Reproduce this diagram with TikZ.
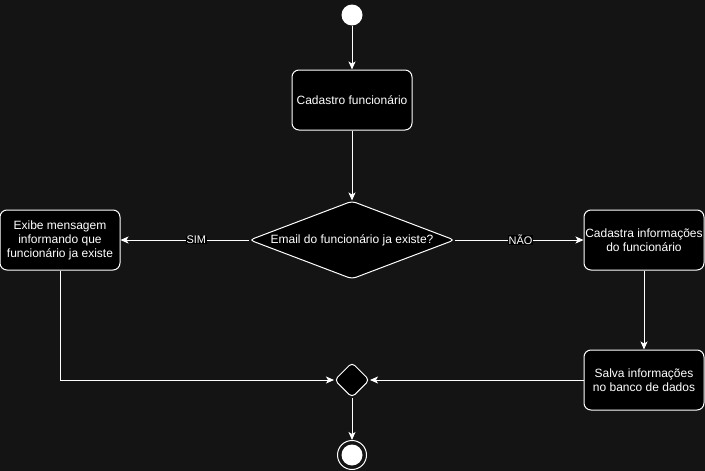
\documentclass[tikz,border=0pt]{standalone}
\usepackage{fontspec}
\setmainfont{Liberation Sans}
\usetikzlibrary{shapes.geometric,arrows.meta}
\definecolor{bg}{RGB}{20,20,20}
\begin{document}
\begin{tikzpicture}[x=1pt,y=-1pt,
  font=\fontsize{12}{14}\selectfont,
  box/.style={draw=white,fill=black,text=white,rounded corners=7pt,minimum width=120pt,minimum height=60pt,align=center,inner sep=1pt,line width=1pt},
  dec/.style={draw=white,fill=black,text=white,diamond,aspect=2.63,inner sep=0pt,minimum width=205pt,minimum height=78pt,rounded corners=4pt,line width=1pt},
  conn/.style={draw=white,line width=1pt,-{Stealth[length=8pt,width=7pt,inset=2pt]}},
  lbl/.style={fill=black,text=white,inner sep=0.5pt,font=\fontsize{11}{12}\selectfont}]
\fill[bg] (0,0) rectangle (705,471);
\useasboundingbox (0,0) rectangle (705,471);
\node[circle,fill=white,minimum size=21pt,inner sep=0pt] (start) at (352,15) {};
\node[box] (cad) at (352,100) {Cadastro funcionário};
\node[dec] (q) at (352,240) {Email do funcionário ja existe?};
\node[box] (exibe) at (60,240) {Exibe mensagem\\informando que\\funcionário ja existe};
\node[box] (cadinfo) at (644,240) {Cadastra informações\\do funcionário};
\node[box] (salva) at (644,380) {Salva informações\\no banco de dados};
\node[draw=white,fill=black,diamond,minimum width=35pt,minimum height=35pt,inner sep=0pt,rounded corners=4pt,line width=1pt] (merge) at (352,380) {};
\node[circle,draw=white,line width=1pt,minimum size=29pt,inner sep=0pt] (endo) at (352,455) {};
\node[circle,fill=white,minimum size=21pt,inner sep=0pt] (endi) at (352,455) {};
\draw[conn] (start) -- (cad);
\draw[conn] (cad) -- (q);
\draw[conn] (q) -- node[lbl,pos=0.41] {SIM} (exibe);
\draw[conn] (q) -- node[lbl,pos=0.51] {NÃO} (cadinfo);
\draw[conn] (cadinfo) -- (salva);
\draw[conn] (exibe.south) |- (merge.west);
\draw[conn] (salva) -- (merge);
\draw[conn] (merge) -- (endo);
\end{tikzpicture}
\end{document}
